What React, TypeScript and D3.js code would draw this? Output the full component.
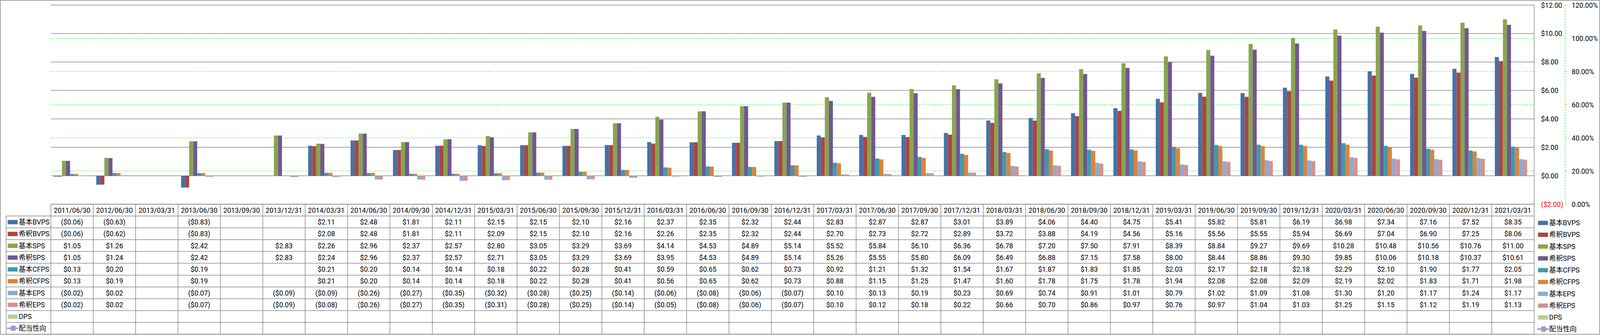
import React from 'react';
import * as d3 from 'd3';

// ---------------------------------------------------------------------------
// Data
// ---------------------------------------------------------------------------

const categories = [
  '2011/06/30', '2012/06/30', '2013/03/31', '2013/06/30', '2013/09/30', '2013/12/31',
  '2014/03/31', '2014/06/30', '2014/09/30', '2014/12/31', '2015/03/31', '2015/06/30',
  '2015/09/30', '2015/12/31', '2016/03/31', '2016/06/30', '2016/09/30', '2016/12/31',
  '2017/03/31', '2017/06/30', '2017/09/30', '2017/12/31', '2018/03/31', '2018/06/30',
  '2018/09/30', '2018/12/31', '2019/03/31', '2019/06/30', '2019/09/30', '2019/12/31',
  '2020/03/31', '2020/06/30', '2020/09/30', '2020/12/31', '2021/03/31',
];

type V = number | null;

const bvpsBasic: V[] = [-0.06, -0.63, null, -0.83, null, null, 2.11, 2.48, 1.81, 2.11, 2.15, 2.15, 2.10, 2.16, 2.37, 2.35, 2.32, 2.44, 2.83, 2.87, 2.87, 3.01, 3.89, 4.06, 4.40, 4.75, 5.41, 5.82, 5.81, 6.19, 6.98, 7.34, 7.16, 7.52, 8.35];
const bvpsDiluted: V[] = [-0.06, -0.62, null, -0.83, null, null, 2.08, 2.48, 1.81, 2.11, 2.09, 2.15, 2.10, 2.16, 2.26, 2.35, 2.32, 2.44, 2.70, 2.73, 2.72, 2.89, 3.72, 3.88, 4.19, 4.56, 5.16, 5.56, 5.55, 5.94, 6.69, 7.04, 6.90, 7.25, 8.06];
const spsBasic: V[] = [1.05, 1.26, null, 2.42, null, 2.83, 2.26, 2.96, 2.37, 2.57, 2.80, 3.05, 3.29, 3.69, 4.14, 4.53, 4.89, 5.14, 5.52, 5.84, 6.10, 6.36, 6.78, 7.20, 7.50, 7.91, 8.39, 8.84, 9.27, 9.69, 10.28, 10.48, 10.56, 10.76, 11.00];
const spsDiluted: V[] = [1.05, 1.24, null, 2.42, null, 2.83, 2.24, 2.96, 2.37, 2.57, 2.71, 3.05, 3.29, 3.69, 3.95, 4.53, 4.89, 5.14, 5.26, 5.55, 5.80, 6.09, 6.49, 6.88, 7.15, 7.58, 8.00, 8.44, 8.86, 9.30, 9.85, 10.06, 10.18, 10.37, 10.61];
const cfpsBasic: V[] = [0.13, 0.20, null, 0.19, null, null, 0.21, 0.20, 0.14, 0.14, 0.18, 0.22, 0.28, 0.41, 0.59, 0.65, 0.62, 0.73, 0.92, 1.21, 1.32, 1.54, 1.67, 1.87, 1.83, 1.85, 2.03, 2.17, 2.18, 2.18, 2.29, 2.10, 1.90, 1.77, 2.05];
const cfpsDiluted: V[] = [0.13, 0.19, null, 0.19, null, null, 0.21, 0.20, 0.14, 0.14, 0.18, 0.22, 0.28, 0.41, 0.56, 0.65, 0.62, 0.73, 0.88, 1.15, 1.25, 1.47, 1.60, 1.78, 1.75, 1.78, 1.94, 2.08, 2.08, 2.09, 2.19, 2.02, 1.83, 1.71, 1.98];
const epsBasic: V[] = [-0.02, 0.02, null, -0.07, null, -0.09, -0.09, -0.26, -0.27, -0.35, -0.32, -0.28, -0.25, -0.14, -0.06, -0.08, -0.06, -0.07, 0.10, 0.13, 0.19, 0.23, 0.69, 0.74, 0.91, 1.01, 0.79, 1.02, 1.09, 1.08, 1.30, 1.20, 1.17, 1.24, 1.17];
const epsDiluted: V[] = [-0.02, 0.02, null, -0.07, null, -0.09, -0.08, -0.26, -0.27, -0.35, -0.31, -0.28, -0.25, -0.14, -0.05, -0.08, -0.06, -0.07, 0.10, 0.12, 0.18, 0.22, 0.66, 0.70, 0.86, 0.97, 0.76, 0.97, 1.04, 1.03, 1.25, 1.15, 1.12, 1.19, 1.13];
const dps: V[] = categories.map(() => null);
const payoutRatio: V[] = categories.map(() => null);

const barSeries = [
  { name: '基本BVPS', color: '#4572A7', values: bvpsBasic },
  { name: '希釈BVPS', color: '#AA4643', values: bvpsDiluted },
  { name: '基本SPS', color: '#89A54E', values: spsBasic },
  { name: '希釈SPS', color: '#71588F', values: spsDiluted },
  { name: '基本CFPS', color: '#4198AF', values: cfpsBasic },
  { name: '希釈CFPS', color: '#DB843D', values: cfpsDiluted },
  { name: '基本EPS', color: '#93A9CF', values: epsBasic },
  { name: '希釈EPS', color: '#D19392', values: epsDiluted },
  { name: 'DPS', color: '#B9CD96', values: dps },
];
const lineSeries = { name: '配当性向', color: '#A99BBD', values: payoutRatio };

const leftTicks = [-2, 0, 2, 4, 6, 8, 10, 12];
const rightTicks = [0, 0.2, 0.4, 0.6, 0.8, 1.0, 1.2];

// ---------------------------------------------------------------------------
// Layout
// ---------------------------------------------------------------------------

const W = 4181;
const H = 858;
const PLOT = { left: 133, right: 4009, top: 13, bottom: 523 };
const TABLE_BOTTOM = 856;
const LEGEND_LEFT = 16;
const FONT = "Roboto, 'Noto Sans CJK JP', sans-serif";
const FS = 18;
const GRID = '#878787';
const GREEN = '#00FF00';

const money = (v: number) =>
  v < 0 ? `($${Math.abs(v).toFixed(2)})` : `$${v.toFixed(2)}`;

function LegendKey({ x, y, color, line }: { x: number; y: number; color: string; line?: boolean }) {
  if (line) {
    return (
      <g>
        <line x1={x - 2} x2={x + 28} y1={y} y2={y} stroke={color} strokeWidth={4} />
        <rect x={x + 8} y={y - 7} width={13} height={14} rx={3} fill={color} />
      </g>
    );
  }
  return <rect x={x} y={y - 5} width={26} height={11} fill={color} />;
}

export default function App() {
  const x = d3.scaleBand<string>().domain(categories).range([PLOT.left, PLOT.right]);
  const xs = d3
    .scaleBand<string>()
    .domain(barSeries.map((s) => s.name))
    .range([0, x.bandwidth()])
    .paddingOuter(0.75);
  const y = d3.scaleLinear().domain([-2, 12]).range([PLOT.bottom, PLOT.top]);
  const y2 = d3.scaleLinear().domain([0, 1.2]).range([PLOT.bottom, PLOT.top]);

  const rowNames = ['header', ...barSeries.map((s) => s.name), lineSeries.name];
  const rows = d3.scaleBand<string>().domain(rowNames).range([PLOT.bottom, TABLE_BOTTOM]);

  const allRows = [...barSeries, lineSeries];
  const axisX = 4027;
  const axis2X = 4090;

  return (
    <>
      <style>{'html,body{margin:0;padding:0;overflow:hidden;background:#fff;}'}</style>
      <svg
        viewBox={`0 0 ${W} ${H}`}
        preserveAspectRatio="none"
        style={{ position: 'fixed', left: 0, top: 0, width: '100vw', height: '100vh', display: 'block' }}
        fontFamily={FONT}
        fontSize={FS}
      >
        <rect x={1} y={1} width={W - 2} height={H - 3} fill="#fff" stroke={GRID} strokeWidth={1.5} />

        {/* primary gridlines */}
        {leftTicks.map((t) => (
          <line key={`g${t}`} x1={PLOT.left} x2={PLOT.right} y1={y(t)} y2={y(t)} stroke={GRID} strokeWidth={1.5} />
        ))}
        {/* secondary gridlines */}
        {rightTicks.slice(1, -1).map((t) => (
          <line
            key={`g2${t}`}
            x1={PLOT.left}
            x2={PLOT.right}
            y1={y2(t)}
            y2={y2(t)}
            stroke={GREEN}
            strokeWidth={1.2}
            strokeDasharray="4,3"
          />
        ))}

        {/* bars */}
        {barSeries.map((s) =>
          s.values.map((v, i) =>
            v == null ? null : (
              <rect
                key={`${s.name}-${i}`}
                x={(x(categories[i]) as number) + (xs(s.name) as number)}
                y={Math.min(y(v), y(0))}
                width={xs.bandwidth()}
                height={Math.abs(y(v) - y(0))}
                fill={s.color}
              />
            ),
          ),
        )}

        {/* plot right edge */}
        <line x1={PLOT.right} x2={PLOT.right} y1={PLOT.top} y2={TABLE_BOTTOM} stroke={GRID} strokeWidth={1.5} />

        {/* primary axis labels */}
        {leftTicks.map((t) => (
          <text key={`l${t}`} x={axisX} y={y(t)} dominantBaseline="central" fill={t < 0 ? '#FF0000' : '#000'}>
            {money(t)}
          </text>
        ))}

        {/* secondary axis */}
        <line
          x1={axis2X}
          x2={axis2X}
          y1={PLOT.top}
          y2={PLOT.bottom}
          stroke={GREEN}
          strokeWidth={1.2}
          strokeDasharray="4,3"
        />
        {rightTicks.map((t) => (
          <g key={`r${t}`}>
            <line x1={axis2X} x2={axis2X + 4} y1={y2(t)} y2={y2(t)} stroke={GREEN} strokeWidth={1.2} />
            <text x={4107} y={y2(t)} dominantBaseline="central" fill="#000">
              {`${(t * 100).toFixed(2)}%`}
            </text>
          </g>
        ))}

        {/* data table */}
        <g stroke={GRID} strokeWidth={1.5}>
          <line x1={PLOT.left} x2={PLOT.right} y1={PLOT.bottom} y2={PLOT.bottom} />
          {rowNames.slice(1).map((r) => (
            <line key={`h${r}`} x1={LEGEND_LEFT} x2={PLOT.right} y1={rows(r)} y2={rows(r)} />
          ))}
          <line x1={LEGEND_LEFT} x2={PLOT.right} y1={TABLE_BOTTOM} y2={TABLE_BOTTOM} />
          <line x1={LEGEND_LEFT} x2={LEGEND_LEFT} y1={rows(rowNames[1])} y2={TABLE_BOTTOM} />
          {categories.map((c) => (
            <line key={`v${c}`} x1={x(c)} x2={x(c)} y1={PLOT.bottom} y2={TABLE_BOTTOM} />
          ))}
        </g>

        {categories.map((c) => (
          <text
            key={`c${c}`}
            x={(x(c) as number) + x.bandwidth() / 2}
            y={(rows('header') as number) + rows.bandwidth() / 2}
            textAnchor="middle"
            dominantBaseline="central"
          >
            {c}
          </text>
        ))}

        {allRows.map((s) => {
          const cy = (rows(s.name) as number) + rows.bandwidth() / 2;
          return (
            <g key={`row${s.name}`}>
              <LegendKey x={20} y={cy} color={s.color} line={s === lineSeries} />
              <text x={49} y={cy} dominantBaseline="central">
                {s.name}
              </text>
              {s.values.map((v, i) =>
                v == null ? null : (
                  <text
                    key={i}
                    x={(x(categories[i]) as number) + x.bandwidth() / 2}
                    y={cy}
                    textAnchor="middle"
                    dominantBaseline="central"
                  >
                    {money(v)}
                  </text>
                ),
              )}
            </g>
          );
        })}

        {/* right legend */}
        {allRows.map((s) => {
          const cy = (rows(s.name) as number) + rows.bandwidth() / 2 + 2;
          return (
            <g key={`leg${s.name}`}>
              <LegendKey x={4019} y={cy} color={s.color} line={s === lineSeries} />
              <text x={4048} y={cy} dominantBaseline="central">
                {s.name}
              </text>
            </g>
          );
        })}
      </svg>
    </>
  );
}
